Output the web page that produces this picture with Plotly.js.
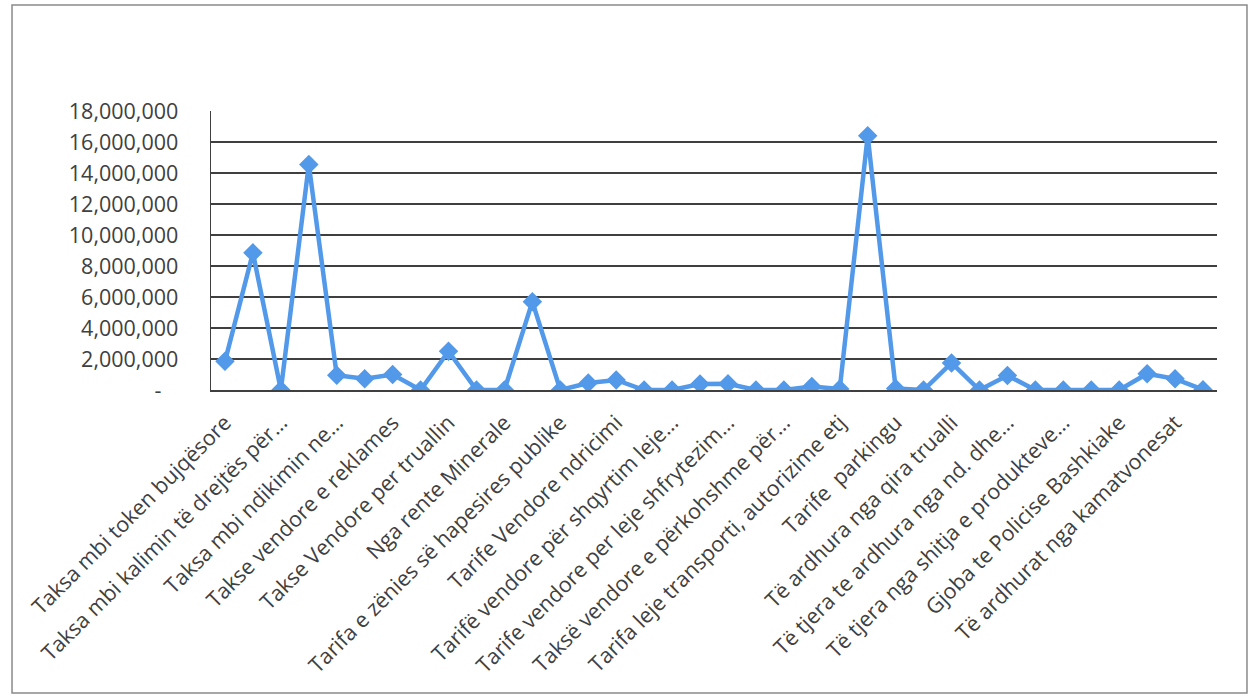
<!DOCTYPE html>
<html>
<head>
<meta charset="utf-8">
<script src="https://cdn.plot.ly/plotly-3.0.1.min.js"></script>
<style>
html,body{margin:0;padding:0;background:#fff;}
#chart{width:1251px;height:699px;}
</style>
</head>
<body>
<div id="chart"></div>
<script>
// Category labels shown on the axis (every other category is labelled)
const labels = [
  "Taksa mbi token bujqësore",
  "Taksa mbi kalimin të drejtës për…",
  "Taksa mbi ndikimin ne…",
  "Takse vendore e reklames",
  "Takse Vendore per truallin",
  "Nga rente Minerale",
  "Tarifa e zënies së hapesires publike",
  "Tarife Vendore ndricimi",
  "Tarifë vendore për shqyrtim leje…",
  "Tarife vendore per leje shfrytezim…",
  "Taksë vendore e përkohshme për…",
  "Tarifa leje transporti, autorizime etj",
  "Tarife  parkingu",
  "Të ardhura nga qira trualli",
  "Të tjera te ardhura nga nd. dhe…",
  "Të tjera nga shitja e produkteve…",
  "Gjoba te Policise Bashkiake",
  "Të ardhurat nga kamatvonesat"
];
// Values for all 36 categories
const values = [
  1850000, 8850000, 0, 14550000, 950000, 730000, 1000000, 0, 2500000, 0,
  0, 5700000, 0, 450000, 650000, 0, 0, 380000, 400000, 0,
  0, 220000, 70000, 16400000, 100000, 0, 1750000, 0, 940000, 0,
  0, 0, 0, 1050000, 720000, 20000
];
const yTickVals = [0, 2000000, 4000000, 6000000, 8000000, 10000000, 12000000, 14000000, 16000000, 18000000];
const yTickText = ["-\u00a0\u00a0\u00a0", "2,000,000", "4,000,000", "6,000,000", "8,000,000", "10,000,000", "12,000,000", "14,000,000", "16,000,000", "18,000,000"];

const xs = values.map((v, i) => i);
const labelPos = labels.map((l, i) => i * 2);

const blue = "#5299ea";
const trace = {
  x: xs,
  y: values,
  type: "scatter",
  mode: "lines+markers",
  line: {color: blue, width: 4.5},
  marker: {symbol: "diamond", size: 15, color: blue},
  hoverinfo: "skip",
  showlegend: false
};

const layout = {
  width: 1251,
  height: 699,
  margin: {l: 211, r: 34, t: 111, b: 309},
  paper_bgcolor: "#fff",
  plot_bgcolor: "#fff",
  font: {family: "Open Sans, sans-serif", color: "#404040", size: 21},
  xaxis: {
    range: [-0.5, 35.5],
    tickvals: labelPos,
    ticktext: labels,
    tickangle: -45,
    showgrid: false,
    zeroline: false,
    showline: true,
    linecolor: "#3f3f3f",
    linewidth: 1.6,
    ticks: "",
    ticklabelstandoff: 10,
    tickfont: {size: 21.5, color: "#404040"},
    fixedrange: true
  },
  yaxis: {
    range: [0, 18000000],
    tickvals: yTickVals,
    ticktext: yTickText,
    showgrid: true,
    gridcolor: "#3f3f3f",
    gridwidth: 1.4,
    zeroline: false,
    showline: true,
    linecolor: "#3f3f3f",
    linewidth: 1.4,
    ticks: "",
    ticklabelstandoff: 27,
    tickfont: {size: 21.5, color: "#404040"},
    fixedrange: true
  },
  shapes: [{
    type: "rect", xref: "paper", yref: "paper",
    x0: -0.1978, x1: 1.0298, y0: -1.086, y1: 1.38,
    line: {color: "#8a8a8a", width: 1.5},
    fillcolor: "rgba(0,0,0,0)",
    layer: "below"
  }]
};

Plotly.newPlot("chart", [trace], layout, {displayModeBar: false, staticPlot: true});
</script>
</body>
</html>
